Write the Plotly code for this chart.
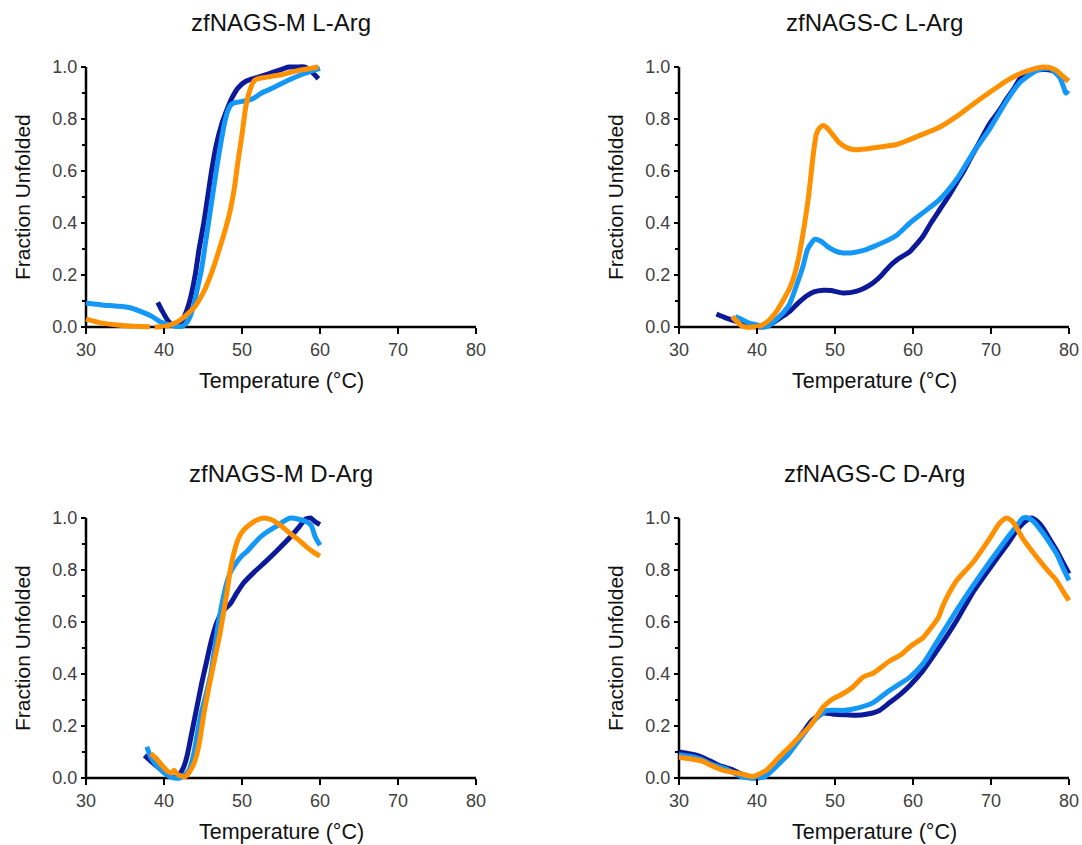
import plotly.graph_objects as go

# ---------------- data ----------------
TITLES = ["zfNAGS-M L-Arg", "zfNAGS-C L-Arg", "zfNAGS-M D-Arg", "zfNAGS-C D-Arg"]
X_TICKS = [30, 40, 50, 60, 70, 80]
Y_TICKS = [0.0, 0.2, 0.4, 0.6, 0.8, 1.0]
Y_TICK_LABELS = ["0.0", "0.2", "0.4", "0.6", "0.8", "1.0"]
X_LABEL = "Temperature (°C)"
Y_LABEL = "Fraction Unfolded"

# zfNAGS-M L-Arg
ml_navy_T = [39.2, 39.8, 40.5, 41.2, 42.0, 42.6, 43.3, 44.0, 44.5, 45.1, 45.6, 46.1, 46.7, 47.4, 48.0, 48.7, 49.5, 50.5, 52.0, 53.0, 54.0, 55.0, 56.0, 57.0, 58.0, 58.8, 59.8]
ml_navy_F = [0.095, 0.06, 0.025, 0.005, 0.01, 0.04, 0.10, 0.20, 0.30, 0.40, 0.50, 0.60, 0.70, 0.78, 0.83, 0.88, 0.92, 0.945, 0.96, 0.97, 0.98, 0.99, 1.0, 1.0, 1.0, 0.985, 0.955]
ml_lblue_T = [30, 32, 34, 35.5, 37, 38.5, 39.5, 40.5, 41.5, 42.3, 43.0, 43.7, 44.3, 44.8, 45.3, 45.8, 46.3, 46.8, 47.3, 47.8, 48.3, 48.8, 49.5, 50.5, 51.5, 52.5, 54, 56, 58, 60]
ml_lblue_F = [0.092, 0.085, 0.08, 0.075, 0.06, 0.04, 0.02, 0.01, 0.003, 0.002, 0.02, 0.07, 0.15, 0.22, 0.32, 0.42, 0.52, 0.62, 0.71, 0.79, 0.84, 0.86, 0.865, 0.87, 0.88, 0.9, 0.92, 0.95, 0.975, 0.995]
ml_orange_T = [30, 32, 34, 36, 38.2, None, 38.8, 40, 41, 42, 43, 44, 45, 46, 47, 48, 48.5, 49, 49.5, 50, 50.5, 51, 51.5, 52, 53, 55, 57, 59.8]
ml_orange_F = [0.03, 0.015, 0.008, 0.003, 0.001, None, 0.0, 0.002, 0.01, 0.025, 0.05, 0.08, 0.13, 0.2, 0.29, 0.39, 0.45, 0.53, 0.64, 0.74, 0.85, 0.91, 0.945, 0.955, 0.96, 0.97, 0.985, 1.0]

# zfNAGS-C L-Arg
cl_navy_T = [34.8, 36, 37.5, 39, 40.5, 41.5, 42.5, 43.5, 44.2, 45.2, 46.3, 47.3, 48.5, 49.5, 51, 52.7, 53.8, 54.9, 56, 57, 58, 59.6, 60.5, 61.3, 62.3, 63.4, 64.5, 65.6, 66.5, 67.3, 68.5, 69.8, 71, 72, 73, 73.7, 74.5, 75.4, 77.1, 78, 78.8, 79.9]
cl_navy_F = [0.05, 0.035, 0.02, 0.005, 0.0, 0.005, 0.025, 0.045, 0.06, 0.09, 0.118, 0.135, 0.141, 0.14, 0.131, 0.137, 0.15, 0.17, 0.2, 0.234, 0.26, 0.29, 0.32, 0.35, 0.40, 0.45, 0.50, 0.555, 0.60, 0.645, 0.71, 0.78, 0.83, 0.877, 0.92, 0.954, 0.975, 0.986, 0.99, 0.985, 0.97, 0.947]
cl_lblue_T = [37.2, 38, 39, 40, 40.8, 41.5, 42.5, 43.5, 44.2, 45.3, 45.9, 46.5, 47.4, 48.2, 49, 50, 51, 52, 53, 54, 55, 57, 58, 59.6, 61.3, 63.4, 65.6, 67.7, 69.8, 72, 73.7, 75.8, 77.5, 78.8, 79.4, 79.6, 79.9]
cl_lblue_F = [0.04, 0.03, 0.015, 0.008, 0.0, 0.005, 0.03, 0.06, 0.09, 0.18, 0.234, 0.30, 0.337, 0.33, 0.31, 0.293, 0.285, 0.285, 0.29, 0.298, 0.31, 0.337, 0.355, 0.40, 0.44, 0.49, 0.568, 0.67, 0.76, 0.87, 0.94, 0.986, 0.995, 0.96, 0.915, 0.9, 0.91]
cl_orange_T = [36.8, 37.5, 38, 38.5, 39.5, 40.5, 41.5, 42.5, 43.3, 44.2, 44.8, 45.3, 45.9, 46.6, 47.2, 47.6, 48, 48.5, 49, 49.7, 50.5, 51.5, 52.5, 54, 56, 58, 59.5, 61.3, 63.4, 65.6, 67.7, 69.8, 72, 74, 75.5, 76.7, 77.5, 78.4, 79.2, 79.9]
cl_orange_F = [0.04, 0.02, 0.005, 0.0, 0.0, 0.005, 0.025, 0.06, 0.1, 0.15, 0.2, 0.26, 0.36, 0.5, 0.66, 0.74, 0.765, 0.775, 0.765, 0.74, 0.71, 0.69, 0.682, 0.685, 0.693, 0.703, 0.72, 0.742, 0.768, 0.81, 0.857, 0.902, 0.947, 0.978, 0.993, 1.0, 0.998, 0.986, 0.965, 0.945]

# zfNAGS-M D-Arg
md_navy_T = [37.5, 38.5, 39.5, 40.5, 41.3, 42, 42.5, 43, 43.6, 44.2, 44.8, 45.4, 46, 46.8, 47.5, 48.5, 49.3, 50.2, 51.5, 53.2, 54.5, 56.2, 57.3, 58.1, 58.8, 59.4, 60]
md_navy_F = [0.087, 0.06, 0.035, 0.012, 0.002, 0.015, 0.04, 0.09, 0.18, 0.27, 0.36, 0.44, 0.52, 0.60, 0.64, 0.67, 0.71, 0.75, 0.79, 0.837, 0.875, 0.927, 0.965, 0.995, 1.0, 0.985, 0.975]
md_lblue_T = [37.8, 38.3, 39, 40, 41, 42, 42.6, 43.2, 43.8, 44.2, 44.7, 45.3, 46, 46.5, 47, 47.5, 48, 48.5, 49.2, 50, 50.6, 51.5, 52.3, 53.2, 54.5, 55.5, 56.2, 57.3, 58.3, 58.9, 59.4, 60]
md_lblue_F = [0.12, 0.08, 0.05, 0.02, 0.002, 0.0, 0.01, 0.03, 0.09, 0.16, 0.24, 0.31, 0.4, 0.5, 0.6, 0.68, 0.745, 0.79, 0.825, 0.855, 0.87, 0.9, 0.925, 0.946, 0.97, 0.99, 1.0, 0.995, 0.985, 0.97, 0.926, 0.895]
md_orange_T = [38.3, 39, 39.7, 40.5, 41, 41.3, 41.7, 42.2, 42.7, 43.3, 43.9, 44.5, 45.1, 45.7, 46.3, 46.8, 47.2, 47.6, 48.1, 48.5, 49, 49.6, 50.2, 51, 52, 52.8, 54, 55, 56.2, 57.3, 58.3, 59.2, 60]
md_orange_F = [0.094, 0.075, 0.05, 0.025, 0.02, 0.03, 0.015, 0.008, 0.005, 0.025, 0.06, 0.13, 0.245, 0.34, 0.43, 0.5, 0.56, 0.63, 0.72, 0.8, 0.87, 0.925, 0.953, 0.975, 0.993, 1.0, 0.99, 0.97, 0.94, 0.915, 0.888, 0.868, 0.853]

# zfNAGS-C D-Arg
cd_navy_T = [30, 31, 32, 33, 34, 35, 36, 37, 38, 39, 40, 41, 42, 43, 44, 45, 46, 47, 48.5, 50, 51.5, 52.7, 54, 55.7, 57, 58.3, 59.6, 61.3, 63.4, 65.6, 67.7, 69.8, 72, 73.5, 74.5, 75.2, 76, 76.7, 77.5, 78.4, 79.2, 80]
cd_navy_F = [0.1, 0.095, 0.09, 0.08, 0.065, 0.05, 0.04, 0.03, 0.015, 0.005, 0.0, 0.01, 0.04, 0.075, 0.105, 0.14, 0.18, 0.22, 0.25, 0.245, 0.243, 0.241, 0.245, 0.26, 0.29, 0.32, 0.356, 0.414, 0.504, 0.606, 0.715, 0.805, 0.895, 0.96, 0.99, 1.0, 0.985, 0.96, 0.92, 0.876, 0.83, 0.786]
cd_lblue_T = [30, 31, 32, 33, 34, 35, 36, 37, 38, 39, 40, 41, 42, 43, 44, 45, 46, 47, 48, 49, 51, 53, 54.9, 57, 59.6, 61.3, 63.4, 65.6, 67.7, 69.8, 72, 73.3, 74.1, 74.8, 75.5, 76.7, 77.5, 78.4, 79.2, 80]
cd_lblue_F = [0.09, 0.085, 0.08, 0.07, 0.055, 0.045, 0.035, 0.02, 0.005, 0.0, 0.0, 0.005, 0.03, 0.06, 0.09, 0.13, 0.17, 0.21, 0.24, 0.26, 0.26, 0.27, 0.29, 0.337, 0.388, 0.44, 0.54, 0.645, 0.74, 0.83, 0.92, 0.97, 1.0, 1.0, 0.985, 0.94, 0.905, 0.863, 0.81, 0.76]
cd_orange_T = [30, 31.4, 33, 34, 35.6, 37.8, 39.5, 41.2, 42.2, 43.3, 44.2, 45, 46.8, 48.5, 49.5, 51, 52.3, 53.6, 55, 57, 58.5, 59.6, 61.3, 62.5, 63.3, 63.8, 64.6, 65.6, 67.7, 69.8, 71.1, 72, 72.8, 74.1, 76.2, 77.5, 78.4, 79.2, 80]
cd_orange_F = [0.08, 0.074, 0.065, 0.05, 0.03, 0.017, 0.006, 0.03, 0.06, 0.094, 0.12, 0.145, 0.2, 0.273, 0.3, 0.324, 0.35, 0.388, 0.405, 0.45, 0.475, 0.505, 0.54, 0.585, 0.62, 0.66, 0.71, 0.76, 0.83, 0.92, 0.98, 1.0, 0.985, 0.92, 0.837, 0.79, 0.76, 0.72, 0.683]

PANELS = [
    [(ml_navy_T, ml_navy_F), (ml_lblue_T, ml_lblue_F), (ml_orange_T, ml_orange_F)],
    [(cl_navy_T, cl_navy_F), (cl_lblue_T, cl_lblue_F), (cl_orange_T, cl_orange_F)],
    [(md_navy_T, md_navy_F), (md_lblue_T, md_lblue_F), (md_orange_T, md_orange_F)],
    [(cd_navy_T, cd_navy_F), (cd_lblue_T, cd_lblue_F), (cd_orange_T, cd_orange_F)],
]
COLORS = ["#0c1a9a", "#1498f8", "#ff9100"]

# ---------------- layout geometry ----------------
W, H = 1082, 845
XR = [29.5, 80.5]
YR = [-0.015, 1.015]
# pixel positions of x=30..80 and y=0..1 for each panel
PX = [(86, 476), (679, 1069), (86, 476), (679, 1069)]
PY = [(327, 67), (327, 67), (778, 518), (778, 518)]

FONT = "Liberation Sans, Arial, sans-serif"
fig = go.Figure()
layout = dict(
    width=W, height=H, margin=dict(l=0, r=0, t=0, b=0, autoexpand=False),
    paper_bgcolor="white", plot_bgcolor="white", showlegend=False,
    font=dict(family=FONT), shapes=[], annotations=[],
)

for i, series in enumerate(PANELS):
    n = "" if i == 0 else str(i + 1)
    x0p, x1p = PX[i]
    y0p, y1p = PY[i]
    sx = (x1p - x0p) / 50.0
    sy = (y0p - y1p) / 1.0
    dom_x = [(x0p - (30 - XR[0]) * sx) / W, (x1p + (XR[1] - 80) * sx) / W]
    dom_y = [(H - (y0p + (0 - YR[0]) * sy)) / H, (H - (y1p - (YR[1] - 1) * sy)) / H]
    layout["xaxis" + n] = dict(
        domain=dom_x, range=XR, anchor="free", position=(H - y0p) / H, automargin=False,
        tickvals=X_TICKS, ticks="outside", ticklen=6, tickwidth=2, tickcolor="black",
        showgrid=False, zeroline=False, showline=False,
        tickfont=dict(size=18, color="#404040", family=FONT),
    )
    layout["yaxis" + n] = dict(
        domain=dom_y, range=YR, anchor="free", position=x0p / W, automargin=False,
        tickvals=Y_TICKS, ticktext=Y_TICK_LABELS, ticks="outside", ticklen=5,
        tickwidth=2, tickcolor="black",
        minor=dict(dtick=0.1, tick0=0, ticks="outside", ticklen=4, tickwidth=2, tickcolor="black", showgrid=False),
        showgrid=False, zeroline=False, showline=False,
        tickfont=dict(size=18, color="#404040", family=FONT),
    )
    xr, yr = "x" + n, "y" + n
    layout["shapes"].append(dict(type="line", xref=xr, yref=yr, x0=30, x1=80, y0=0, y1=0,
                                 line=dict(color="black", width=2.5), layer="below"))
    layout["shapes"].append(dict(type="line", xref=xr, yref=yr, x0=30, x1=30, y0=0, y1=1,
                                 line=dict(color="black", width=2.5), layer="below"))
    for (t, f), c in zip(series, COLORS):
        fig.add_trace(go.Scatter(x=t, y=f, mode="lines", xaxis=xr, yaxis=yr,
                                 line=dict(color=c, width=5, shape="spline", smoothing=0.6),
                                 hoverinfo="skip"))
    cx = (x0p + x1p) / 2 / W
    layout["annotations"].append(dict(text=TITLES[i], x=cx, y=(H - (y1p - 45)) / H, xref="paper", yref="paper",
                                      showarrow=False, xanchor="center", yanchor="middle",
                                      font=dict(size=24, color="#111111", family=FONT)))
    layout["annotations"].append(dict(text=X_LABEL, x=cx, y=(H - (y0p + 54)) / H, xref="paper", yref="paper",
                                      showarrow=False, xanchor="center", yanchor="middle",
                                      font=dict(size=21.5, color="#111111", family=FONT)))
    layout["annotations"].append(dict(text=Y_LABEL, x=(x0p - 64) / W, y=(H - (y0p + y1p) / 2) / H,
                                      xref="paper", yref="paper", textangle=-90,
                                      showarrow=False, xanchor="center", yanchor="middle",
                                      font=dict(size=21, color="#111111", family=FONT)))

fig.update_layout(**layout)
fig.write_html("out.html", config={"displayModeBar": False},
               post_script="document.body.style.margin='0px';document.body.style.overflow='hidden';")
